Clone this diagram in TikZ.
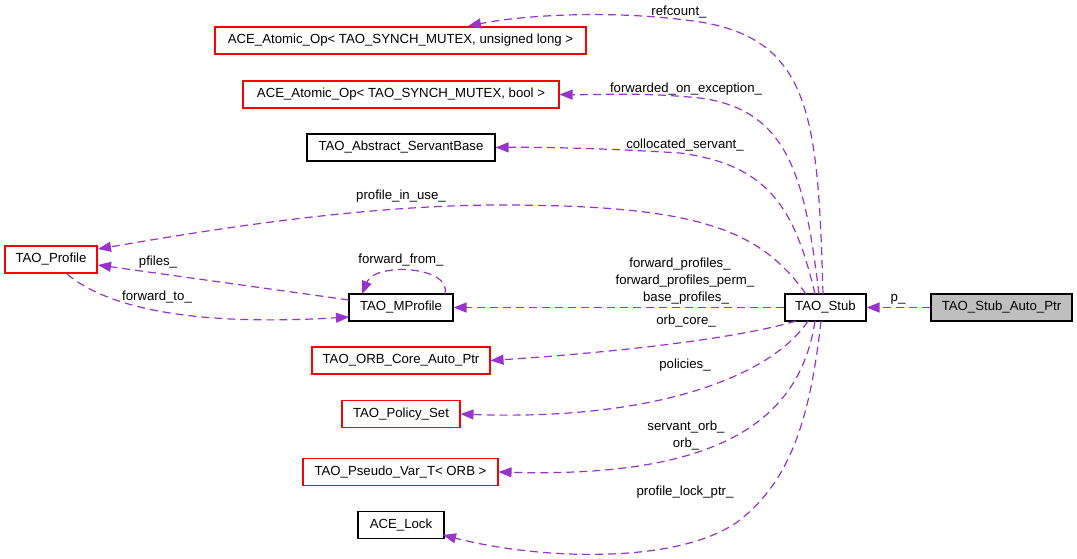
\documentclass[tikz,border=0pt]{standalone}
\usepackage{fontspec}
\setmainfont{Liberation Sans}
\usetikzlibrary{arrows.meta}
\definecolor{edgec}{HTML}{9A32CD}
\definecolor{redb}{HTML}{FF0000}
\definecolor{grayf}{HTML}{BFBFBF}
\definecolor{blackb}{HTML}{000000}
\tikzset{
  cls/.style={draw=blackb, line width=1.1pt, inner sep=0pt, minimum height=27pt, font=\fontsize{13.2}{16}\selectfont, fill=white},
  redcls/.style={cls, draw=redb},
  edge/.style={draw=edgec, dashed, dash pattern=on 8pt off 5pt, line width=1.2pt, -{Triangle[length=13pt,width=10pt]}},
  lbl/.style={inner sep=0pt, font=\fontsize{13.2}{16}\selectfont, align=center}
}
\begin{document}
\begin{tikzpicture}[x=1pt,y=-1pt]
\useasboundingbox (0,0) rectangle (1077,558);
% nodes
\node[redcls, minimum width=371pt] (aul) at (400.5,40.5) {ACE\_Atomic\_Op< TAO\_SYNCH\_MUTEX, unsigned long >};
\node[redcls, minimum width=316pt] (abool) at (401,94.5) {ACE\_Atomic\_Op< TAO\_SYNCH\_MUTEX, bool >};
\node[cls, minimum width=188pt] (asb) at (401,147.5) {TAO\_Abstract\_ServantBase};
\node[redcls, minimum width=92pt] (prof) at (51,259.5) {TAO\_Profile};
\node[cls, minimum width=104pt] (mprof) at (401,307.5) {TAO\_MProfile};
\node[cls, minimum width=81pt] (stub) at (825.5,307.5) {TAO\_Stub};
\node[cls, minimum width=141pt, fill=grayf] (sap) at (1001.5,307.5) {TAO\_Stub\_Auto\_Ptr};
\node[redcls, minimum width=178pt] (orbc) at (401,360.5) {TAO\_ORB\_Core\_Auto\_Ptr};
\node[redcls, minimum width=118pt] (pset) at (401,414) {TAO\_Policy\_Set};
\node[redcls, minimum width=195pt] (pvar) at (400.5,472) {TAO\_Pseudo\_Var\_T< ORB >};
\node[cls, minimum width=86pt] (lock) at (401,525) {ACE\_Lock};
% coordinates
\coordinate (s1) at (823,294);
\coordinate (s2) at (819,294);
\coordinate (s3) at (815,294);
\coordinate (s4) at (806,294);
\coordinate (b1) at (796,321);
\coordinate (b2) at (808,321);
\coordinate (b3) at (815,321);
\coordinate (b4) at (821,321);
\coordinate (t1) at (468,26);
\coordinate (t4) at (98,249);
\coordinate (t9) at (443,535);
\coordinate (pf1) at (349,300);
\coordinate (pf2) at (98,265);
\coordinate (ft1) at (67,274);
\coordinate (ft2) at (349,317);
\coordinate (ff1) at (445,294);
\coordinate (ff2) at (362,294);
% edges
\draw[edge] (s1) .. controls (818,120) and (812,40) .. (700,22) .. controls (620,10) and (530,14) .. (t1);
\draw[edge] (s2) .. controls (805,180) and (790,110) .. (700,98) .. controls (640,92) and (600,95) .. (abool.east);
\draw[edge] (s3) .. controls (795,210) and (770,165) .. (680,153) .. controls (600,148) and (540,147) .. (asb.east);
\draw[edge] (s4) .. controls (760,230) and (700,205) .. (500,205) .. controls (350,205) and (180,235) .. (t4);
\draw[edge] (stub.west) -- (mprof.east);
\draw[edge] (b1) .. controls (740,338) and (620,352) .. (orbc.east);
\draw[edge] (b2) .. controls (770,378) and (650,421) .. (pset.east);
\draw[edge] (b3) .. controls (800,420) and (720,478) .. (pvar.east);
\draw[edge] (b4) .. controls (810,420) and (790,480) .. (740,520) .. controls (680,565) and (540,560) .. (t9);
\draw[edge] (sap.west) -- (stub.east);
\draw[edge] (pf1) -- (pf2);
\draw[edge] (ft1) .. controls (110,310) and (200,326) .. (ft2);
\draw[edge] (ff1) .. controls (452,266) and (375,262) .. (ff2);
% labels
\node[lbl] (l1) at (679,12) {refcount\_};
\node[lbl] (l2) at (686,89) {forwarded\_on\_exception\_};
\node[lbl] (l3) at (685,145) {collocated\_servant\_};
\node[lbl] (l4) at (401,196) {profile\_in\_use\_};
\node[lbl] (l5) at (158,262) {pfiles\_};
\node[lbl] (l6) at (401,260) {forward\_from\_};
\node[lbl] (l7) at (157,297) {forward\_to\_};
\node[lbl] (l8) at (680,264) {forward\_profiles\_};
\node[lbl] (l9) at (685,281) {forward\_profiles\_perm\_};
\node[lbl] (l10) at (686,298) {base\_profiles\_};
\node[lbl] (l11) at (686,321) {orb\_core\_};
\node[lbl] (l12) at (685,365) {policies\_};
\node[lbl] (l13) at (686,427) {servant\_orb\_};
\node[lbl] (l14) at (686,444) {orb\_};
\node[lbl] (l15) at (685,492) {profile\_lock\_ptr\_};
\node[lbl] (l16) at (898,299) {p\_};
\end{tikzpicture}
\end{document}
